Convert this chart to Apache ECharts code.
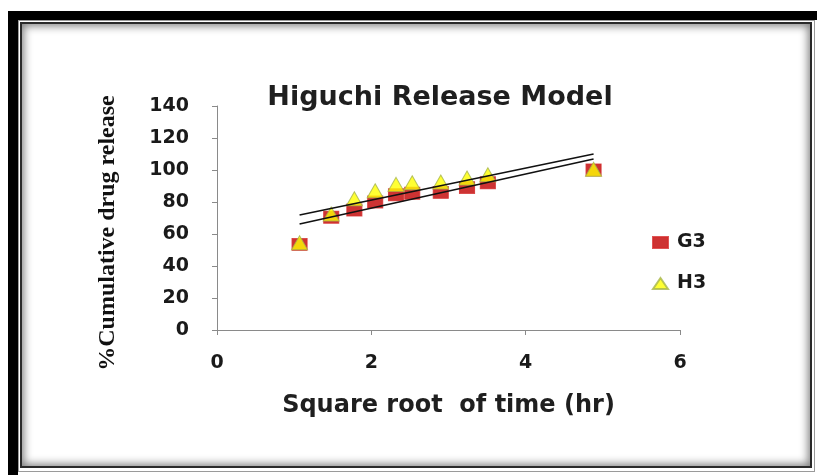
<!DOCTYPE html>
<html>
<head>
<meta charset="utf-8">
<script src="https://cdn.jsdelivr.net/npm/echarts@6/dist/echarts.min.js"></script>
<style>
html,body{margin:0;padding:0;background:#fff;}
body{width:817px;height:475px;overflow:hidden;position:relative;}
#outer{position:absolute;left:8px;top:11px;width:820px;height:480px;border-left:10px solid #000;border-top:9px solid #000;box-sizing:border-box;}
#line2{position:absolute;left:18px;top:20px;width:797px;height:452px;border:1px solid #9a9a9a;box-sizing:border-box;}
#inner{position:absolute;left:20px;top:22px;width:792px;height:446px;border:2px solid #2a2a2a;box-sizing:border-box;box-shadow:inset 0 0 9px 2px rgba(0,0,0,0.5);background:#fff;}
#chart{position:absolute;left:0;top:0;width:817px;height:475px;}
</style>
</head>
<body>
<div id="outer"></div>
<div id="line2"></div>
<div id="inner"></div>
<div id="chart"></div>
<script>
// Square root of time (hr)
const sqrtTime = [1.07, 1.48, 1.78, 2.05, 2.32, 2.53, 2.90, 3.24, 3.51, 4.88];
// % cumulative drug release
const g3Values = [53.5, 70.5, 75, 80, 84.5, 85.5, 86, 89, 92, 100];
const h3Values = [54.5, 72.5, 82, 87, 91, 92, 92.5, 95, 97, 100.5];
// Linear trendlines: [x, y] end points
const g3Trend = [[1.07, 66.3], [4.88, 106.9]];
const h3Trend = [[1.07, 71.9], [4.88, 110]];
const seriesNames = ['G3', 'H3'];
const xTicks = [0, 2, 4, 6];
const yTicks = [0, 20, 40, 60, 80, 100, 120, 140];

const chart = echarts.init(document.getElementById('chart'), null, {renderer: 'canvas'});
const pair = (xs, ys) => xs.map((x, i) => [x, ys[i]]);
const labelFont = {fontFamily: 'DejaVu Sans', fontWeight: 'bold', fontSize: 19, color: '#1a1a1a'};

chart.setOption({
  backgroundColor: 'transparent',
  animation: false,
  title: {
    text: 'Higuchi Release Model',
    left: 435, top: 79, textAlign: 'center',
    textStyle: {fontFamily: 'DejaVu Sans', fontWeight: 'bold', fontSize: 27, color: '#1f1f1f'}
  },
  legend: {
    orient: 'vertical', left: 647, top: 228, itemGap: 22,
    itemWidth: 15, itemHeight: 11,
    data: [{name: seriesNames[0], icon: 'rect'}, {name: seriesNames[1], icon: 'triangle'}],
    textStyle: Object.assign({padding: [0, 0, 0, 4]}, labelFont)
  },
  grid: {left: 217, right: 137, top: 106, bottom: 145, containLabel: false},
  xAxis: {
    type: 'value', min: xTicks[0], max: xTicks[xTicks.length - 1], interval: 2,
    name: 'Square root  of time (hr)', nameLocation: 'middle', nameGap: 64,
    nameTextStyle: {fontFamily: 'DejaVu Sans', fontWeight: 'bold', fontSize: 24, color: '#1f1f1f'},
    axisLine: {show: true, lineStyle: {color: '#8a8a8a', width: 1}},
    axisTick: {show: true, length: 5, lineStyle: {color: '#8a8a8a'}},
    axisLabel: Object.assign({margin: 24}, labelFont),
    splitLine: {show: false}
  },
  yAxis: {
    type: 'value', min: yTicks[0], max: yTicks[yTicks.length - 1], interval: 20,
    name: '%Cumulative drug release', nameLocation: 'middle', nameGap: 97, nameRotate: 90,
    nameTextStyle: {fontFamily: 'Liberation Serif', fontWeight: 'bold', fontSize: 24, color: '#111', padding: [0, 30, 0, 0]},
    axisLine: {show: true, lineStyle: {color: '#8a8a8a', width: 1}},
    axisTick: {show: true, length: 5, lineStyle: {color: '#8a8a8a'}},
    axisLabel: Object.assign({margin: 28}, labelFont),
    splitLine: {show: false}
  },
  series: [
    {
      name: seriesNames[0], type: 'scatter', symbol: 'rect', symbolSize: [15, 12], z: 2,
      itemStyle: {color: '#c00000', borderColor: '#d42a2a', borderWidth: 1},
      data: pair(sqrtTime, g3Values)
    },
    {
      name: seriesNames[1], type: 'scatter', symbol: 'triangle', symbolSize: [16, 14], z: 3,
      itemStyle: {color: '#ffff00', borderColor: '#a6b54a', borderWidth: 1},
      data: pair(sqrtTime, h3Values)
    },
    {
      name: 'G3 trend', type: 'line', data: g3Trend, symbol: 'none', silent: true, z: 4,
      lineStyle: {color: '#111', width: 1.6}
    },
    {
      name: 'H3 trend', type: 'line', data: h3Trend, symbol: 'none', silent: true, z: 4,
      lineStyle: {color: '#111', width: 1.6}
    }
  ]
});
</script>
</body>
</html>
